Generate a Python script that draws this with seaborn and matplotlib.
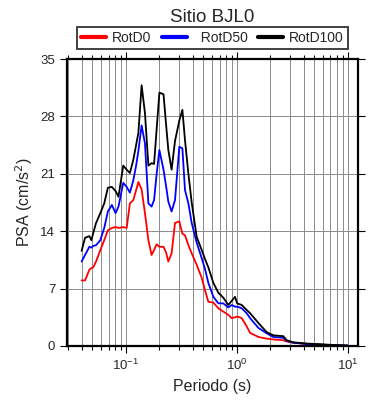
import numpy as np
import pandas as pd
import seaborn as sns
import matplotlib
matplotlib.use('Agg')
import matplotlib.pyplot as plt
from matplotlib.ticker import LogLocator, FixedLocator, NullFormatter

# periodos (s) y ordenadas espectrales PSA (cm/s2)
periodo = [0.040, 0.043, 0.047, 0.049, 0.051, 0.054, 0.059, 0.064, 0.069, 0.075,
           0.081, 0.086, 0.095, 0.102, 0.109, 0.117, 0.124, 0.130, 0.139, 0.149,
           0.160, 0.171, 0.180, 0.190, 0.201, 0.219, 0.231, 0.242, 0.259, 0.278,
           0.304, 0.324, 0.342, 0.367, 0.393, 0.436, 0.484, 0.518, 0.555, 0.616,
           0.683, 0.757, 0.840, 0.902, 0.965, 1.01, 1.11, 1.23, 1.32, 1.57,
           1.86, 2.14, 2.63, 2.82, 3.23, 4.27, 6.9, 10.0]

rotd0 = [8.0, 8.0, 9.3, 9.5, 9.6, 10.3, 11.7, 12.9, 14.1, 14.4,
         14.5, 14.4, 14.5, 14.4, 17.4, 17.8, 19.0, 20.0, 19.1, 16.2,
         12.9, 11.1, 11.7, 12.4, 12.1, 12.1, 11.4, 10.3, 11.3, 15.0,
         15.2, 13.7, 13.5, 12.3, 11.3, 9.9, 8.3, 6.8, 5.4, 5.3,
         4.6, 4.2, 3.8, 3.4, 3.5, 3.6, 3.4, 2.4, 1.6, 1.1,
         0.9, 0.8, 0.7, 0.55, 0.4, 0.25, 0.1, 0.05]

rotd50 = [10.3, 11.1, 12.1, 12.0, 12.2, 12.3, 12.9, 14.4, 16.4, 17.2,
          16.2, 17.0, 19.9, 19.4, 18.7, 20.2, 22.0, 23.8, 26.9, 24.7,
          17.4, 17.0, 17.8, 21.0, 23.9, 21.5, 19.5, 17.6, 16.4, 17.8,
          24.3, 24.1, 19.0, 17.4, 15.0, 12.6, 10.7, 9.4, 7.7, 6.0,
          5.2, 5.2, 4.7, 5.0, 4.8, 4.8, 4.6, 4.0, 3.4, 2.2,
          1.55, 1.1, 1.0, 0.65, 0.4, 0.25, 0.12, 0.05]

rotd100 = [11.6, 13.2, 13.4, 12.9, 13.8, 15.0, 16.2, 17.4, 19.3, 19.4,
           18.9, 18.2, 22.0, 21.5, 21.1, 22.7, 24.5, 26.0, 31.8, 28.4,
           22.0, 22.3, 22.2, 26.5, 30.9, 30.7, 27.0, 23.9, 21.5, 25.0,
           27.5, 28.8, 25.1, 21.0, 17.5, 13.3, 11.7, 10.6, 9.6, 7.7,
           6.5, 5.9, 5.0, 5.5, 6.0, 5.2, 5.0, 4.4, 4.0, 2.8,
           1.7, 1.3, 1.2, 0.7, 0.45, 0.3, 0.15, 0.05]

series = [('RotD0', rotd0, 'red'),
          ('  RotD50', rotd50, 'blue'),
          ('RotD100', rotd100, 'black')]

sns.set_style('ticks')
plt.rcParams['font.family'] = ['Liberation Sans', 'DejaVu Sans']
plt.rcParams['xtick.direction'] = 'out'
plt.rcParams['ytick.direction'] = 'out'

fig = plt.figure(figsize=(3.9, 4.0), dpi=100)
ax = fig.add_axes([0.172, 0.135, 0.745, 0.7175])

for nombre, valores, color in series:
    sns.lineplot(x=periodo, y=valores, color=color, linewidth=1.3,
                 label=nombre, ax=ax, legend=False)

ax.set_xscale('log')
ax.set_xlim(0.0296, 12.3)
ax.set_ylim(0, 35)
ax.yaxis.set_major_locator(FixedLocator([0, 7, 14, 21, 28, 35]))
ax.xaxis.set_major_locator(LogLocator(base=10, numticks=10))
ax.xaxis.set_minor_locator(LogLocator(base=10, subs=np.arange(2, 10), numticks=20))
ax.xaxis.set_minor_formatter(NullFormatter())

ax.grid(True, which='major', axis='both', color='#8c8c8c', linewidth=0.7)
ax.grid(True, which='minor', axis='x', color='#8c8c8c', linewidth=0.7)
ax.set_axisbelow(True)

ax.tick_params(which='both', top=True, right=True, labelsize=9.5,
               width=0.8, color='black')
ax.tick_params(which='major', length=5)
ax.tick_params(which='minor', length=3)
for s in ax.spines.values():
    s.set_linewidth(1.6)
    s.set_color('black')

ax.set_xlabel('Periodo (s)', fontsize=11.5)
ax.set_ylabel('PSA (cm/s$^2$)', fontsize=11.5)
ax.set_title('Sitio BJL0', fontsize=13.5, pad=27)

handles, labels = ax.get_legend_handles_labels()
leg = ax.legend(handles, labels, loc='lower center', bbox_to_anchor=(0.5, 1.035),
                ncol=3, fontsize=10, frameon=True, fancybox=False,
                edgecolor='black', handlelength=1.8, handletextpad=0.4,
                columnspacing=0.8, borderpad=0.3, borderaxespad=0)
leg.get_frame().set_linewidth(1.3)
for ln in leg.get_lines():
    ln.set_linewidth(3)

fig.savefig('out.png', dpi=100)
